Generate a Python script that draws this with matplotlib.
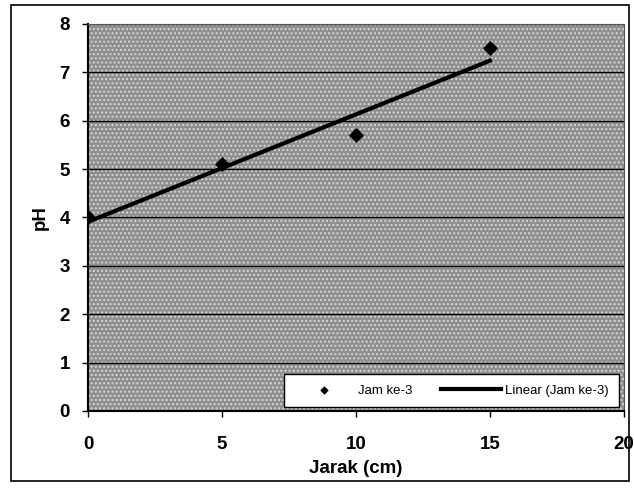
import numpy as np
import matplotlib.pyplot as plt
from matplotlib.patches import Rectangle

# data
jarak = [0, 5, 10, 15]
ph = [4.0, 5.1, 5.7, 7.5]
x_ticks = [0, 5, 10, 15, 20]
y_ticks = [0, 1, 2, 3, 4, 5, 6, 7, 8]

plt.rcParams["font.family"] = ["Liberation Sans", "DejaVu Sans"]
plt.rcParams["font.weight"] = "bold"

fig = plt.figure(figsize=(6.34, 4.88), dpi=100)
ax = fig.add_axes([0.139, 0.158, 0.845, 0.793])

# outer chart border
fig.patches.append(Rectangle((0.017, 0.014), 0.975, 0.975, transform=fig.transFigure,
                             fill=False, edgecolor="black", linewidth=1.2))

ax.set_facecolor("#8e8e8e")
ax.add_patch(Rectangle((0, 0), 1, 1, transform=ax.transAxes, facecolor="none",
                       edgecolor="#d8d8d8", hatch="....", linewidth=0, zorder=0))

ax.scatter(jarak, ph, marker="D", s=45, color="black", zorder=4, label="Jam ke-3")

# linear trendline (Excel-style least squares)
slope, intercept = np.polyfit(jarak, ph, 1)
xs = np.array([min(jarak), max(jarak)])
ax.plot(xs, slope * xs + intercept, color="black", linewidth=3, zorder=3,
        label="Linear (Jam ke-3)")

ax.set_xlim(0, 20)
ax.set_ylim(0, 8)
ax.set_xticks(x_ticks)
ax.set_yticks(y_ticks)
ax.tick_params(labelsize=13.5, length=4, width=1, direction="out")
ax.tick_params(axis="x", pad=14)
ax.tick_params(axis="y", pad=9)
ax.grid(axis="y", color="black", linewidth=1)
ax.set_axisbelow(True)

for s in ["left", "bottom"]:
    ax.spines[s].set_color("black")
    ax.spines[s].set_linewidth(1.5)
for s in ["top", "right"]:
    ax.spines[s].set_color("#555555")

ax.set_xlabel("Jarak (cm)", fontsize=13.5, fontweight="bold", labelpad=5)
ax.set_ylabel("pH", fontsize=13.5, fontweight="bold", labelpad=8)

leg = ax.legend(ncol=2, loc="lower right", bbox_to_anchor=(1.003, -0.008),
                frameon=True, fancybox=False, fontsize=9.5, handlelength=4.5,
                columnspacing=2.2, borderpad=0.8, markerscale=0.5,
                handletextpad=0.3)
leg.get_frame().set_edgecolor("black")
leg.get_frame().set_facecolor("white")
leg.get_frame().set_alpha(1)
leg.get_frame().set_linewidth(1)
for t in leg.get_texts():
    t.set_fontweight("normal")

fig.savefig("out.png", dpi=100)
